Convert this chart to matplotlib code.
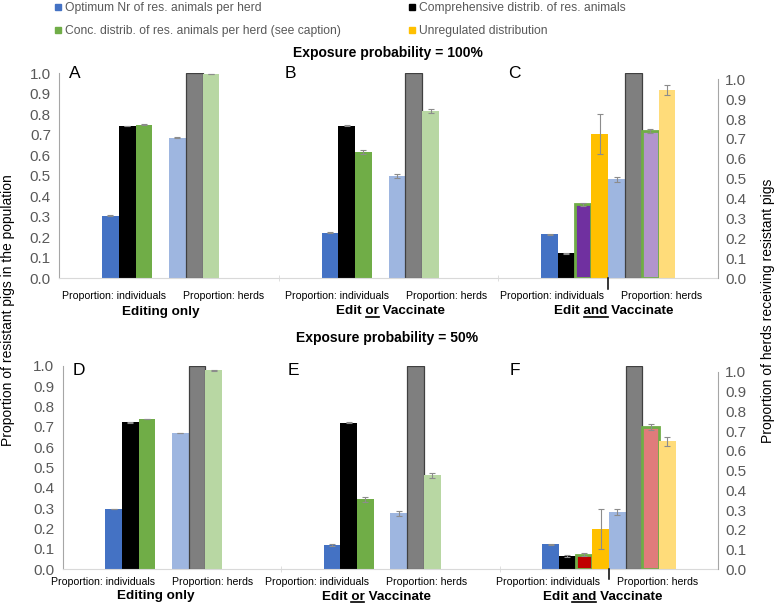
import numpy as np
import matplotlib
matplotlib.use("Agg")
import matplotlib.pyplot as plt
from matplotlib.lines import Line2D
from matplotlib.transforms import blended_transform_factory, IdentityTransform

plt.rcParams["font.family"] = ["Liberation Sans", "DejaVu Sans"]

W, H = 775, 606

# legend entries
legend_names = ["Optimum Nr of res. animals per herd",
                "Comprehensive distrib. of res. animals",
                "Conc. distrib. of res. animals per herd (see caption)",
                "Unregulated distribution"]
legend_colors = ["#4472C4", "#000000", "#70AD47", "#FFC000"]

row_titles = ["Exposure probability = 100%", "Exposure probability = 50%"]
panel_titles = ["Editing only", "Edit or Vaccinate", "Edit and Vaccinate"]
underlined = [None, "or", "and"]
panel_letters = [["A", "B", "C"], ["D", "E", "F"]]
tick_labels = ["Proportion: individuals", "Proportion: herds"]

# 8 bars per panel: individuals (optimum, comprehensive, concentrated, unregulated),
# then herds (optimum, comprehensive, concentrated, unregulated)
nan = np.nan
vals_100 = [
    [0.305, 0.743, 0.749, nan, 0.686, 1.0, 0.997, nan],   # A
    [0.222, 0.744, 0.615, nan, 0.499, 1.0, 0.816, nan],   # B
    [0.215, 0.122, 0.361, 0.704, 0.483, 1.0, 0.718, 0.917],  # C
]
errs_100 = [
    [0.002, 0.002, 0.002, 0, 0.002, 0, 0.002, 0],
    [0.003, 0.002, 0.010, 0, 0.012, 0, 0.012, 0],
    [0.003, 0.003, 0.006, 0.098, 0.013, 0, 0.010, 0.024],
]
vals_50 = [
    [0.297, 0.723, 0.739, nan, 0.670, 1.0, 0.979, nan],   # D
    [0.120, 0.721, 0.344, nan, 0.275, 1.0, 0.462, nan],   # E
    [0.123, 0.065, 0.072, 0.200, 0.282, 1.0, 0.700, 0.630],  # F
]
errs_50 = [
    [0.002, 0.002, 0.002, 0, 0.002, 0, 0.002, 0],
    [0.003, 0.002, 0.012, 0, 0.013, 0, 0.013, 0],
    [0.003, 0.003, 0.008, 0.098, 0.013, 0, 0.013, 0.023],
]

bar_colors = ["#4472C4", "#000000", "#70AD47", "#FFC000",
              "#9EB6E0", "#7F7F7F", "#B8D7A3", "#FFDC7A"]
# the combined panels use different fills for the concentrated bars
combined_fills = [{2: "#7030A0", 6: "#B294CC"}, {2: "#C00000", 6: "#E07B7B"}]

fig = plt.figure(figsize=(W / 100, H / 100), dpi=100)


def rect(l, r, t, b):
    return [l / W, 1 - b / H, (r - l) / W, (b - t) / H]


def fx(x):
    return x / W


def fy(y):
    return 1 - y / H


rows = [
    dict(box=(59.3, 718, 73.3, 278.3), vals=vals_100, errs=errs_100,
         tick_y=295.7, group_y=314.5, title_y=53.3, letter_y=66,
         tick_off=[0, 0.015, -0.005], group_off=[-0.038, 0.01, 0.026]),
    dict(box=(62.7, 718.3, 366, 569.3), vals=vals_50, errs=errs_50,
         tick_y=581.7, group_y=599.5, title_y=338.3, letter_y=363,
         tick_off=[-0.066, -0.085, -0.027], group_off=[-0.073, -0.066, -0.03]),
]

w = 0.0764
grid = "#D9D9D9"
axcol = "#A6A6A6"
txtcol = "#595959"
group_texts = []

for ri, row in enumerate(rows):
    ax = fig.add_axes(rect(*row["box"]))
    for p in range(3):
        for i in range(8):
            v = row["vals"][p][i]
            if np.isnan(v):
                continue
            color = bar_colors[i]
            ec, lw = "none", 0
            if i == 5:
                ec, lw = "#404040", 0.9
            if p == 2 and i in combined_fills[ri]:
                color = combined_fills[ri][i]
                ec, lw = "#70AD47", 2.0
            x = p + (i - 3.5) * w
            ax.bar(x, v, width=w, color=color, edgecolor=ec, linewidth=lw, zorder=2)
            e = row["errs"][p][i]
            if e > 0:
                ax.errorbar(x, v, yerr=e, fmt="none", ecolor="#8C8C8C",
                            elinewidth=0.8, capsize=2, capthick=0.8, zorder=3)
    ax.set_xlim(-0.5, 2.5)
    ax.set_ylim(0, 1.0)
    ax.set_yticks(np.arange(0, 1.01, 0.1))
    ax.set_yticklabels([f"{t:.1f}" for t in np.arange(0, 1.01, 0.1)])
    ax.tick_params(axis="y", length=0, pad=6, labelsize=11, labelcolor=txtcol)
    ax.set_xticks([])
    ax.set_xticks([0.5, 1.5], minor=True)
    ax.tick_params(axis="x", which="minor", length=5, direction="inout", color=grid)
    for s in ["top", "right"]:
        ax.spines[s].set_visible(False)
    ax.spines["bottom"].set_color(grid)
    ax.spines["left"].set_color(axcol)
    ax.spines["left"].set_linewidth(0.8)
    # divider under the combined panel
    ax.plot([2, 2], [0, -0.05], color="black", lw=1.1, clip_on=False, zorder=4)

    ax2 = ax.twinx()
    ax2.set_ylim(0, 1.03)
    ax2.set_yticks(np.arange(0, 1.01, 0.1))
    ax2.set_yticklabels([f"{t:.1f}" for t in np.arange(0, 1.01, 0.1)])
    ax2.tick_params(axis="y", length=0, pad=5, labelsize=11, labelcolor=txtcol)
    for s in ["top", "left", "bottom"]:
        ax2.spines[s].set_visible(False)
    ax2.spines["right"].set_color(axcol)
    ax2.spines["right"].set_linewidth(0.8)
    ax2.spines["right"].set_bounds(0, 1)

    tr = blended_transform_factory(ax.transData, fig.transFigure)
    for p in range(3):
        for k, lab in enumerate(tick_labels):
            ax.text(p - 0.25 + 0.5 * k + row["tick_off"][p], fy(row["tick_y"]), lab,
                    transform=tr, ha="center", va="center", fontsize=7.6, color="black")
        t = ax.text(p + row["group_off"][p], fy(row["group_y"]), panel_titles[p],
                    transform=tr, ha="center", va="baseline", fontsize=9.7,
                    fontweight="bold")
        group_texts.append((t, underlined[p]))
        x0 = row["box"][0] + (row["box"][1] - row["box"][0]) * p / 3
        fig.text(fx(x0 + (10 if p != 1 else 6)), fy(row["letter_y"]), panel_letters[ri][p],
                 fontsize=12.5, ha="left", va="top")
    fig.text(0.5, fy(row["title_y"]), row_titles[ri], ha="center", va="center",
             fontsize=10, fontweight="bold")

fig.text(fx(8), fy(310), "Proportion of resistant pigs in the population",
         rotation=90, ha="center", va="center", fontsize=10)
fig.text(fx(768), fy(311), "Proportion of herds receiving resistant pigs",
         rotation=90, ha="center", va="center", fontsize=10)

handles = [Line2D([], [], marker="s", ls="", color=c, markersize=4.8) for c in legend_colors]
order = [0, 2, 1, 3]
fig.legend([handles[i] for i in order], [legend_names[i] for i in order],
           ncol=2, loc="upper left", bbox_to_anchor=(fx(54), fy(2.5)),
           frameon=False, fontsize=8.7, labelcolor=txtcol, handlelength=0.6,
           handletextpad=0.3, columnspacing=5.6, labelspacing=0.9,
           borderpad=0, borderaxespad=0)

# underline "or" / "and" in the panel titles
fig.canvas.draw()
r = fig.canvas.get_renderer()
for t, word in group_texts:
    if word is None:
        continue
    s = t.get_text()
    fp = t.get_fontproperties()
    head = s[:s.index(word) + len(word)]
    bb = t.get_window_extent(r)
    w_head = r.get_text_width_height_descent(head, fp, ismath=False)[0]
    w_word = r.get_text_width_height_descent(word, fp, ismath=False)[0]
    x1 = bb.x0 + w_head
    x0 = x1 - w_word
    yb = t.get_transform().transform(t.get_position())[1] - 2
    fig.add_artist(Line2D([x0, x1], [yb, yb], transform=IdentityTransform(),
                          color="black", lw=1.2))

fig.savefig("out.png", dpi=100)
